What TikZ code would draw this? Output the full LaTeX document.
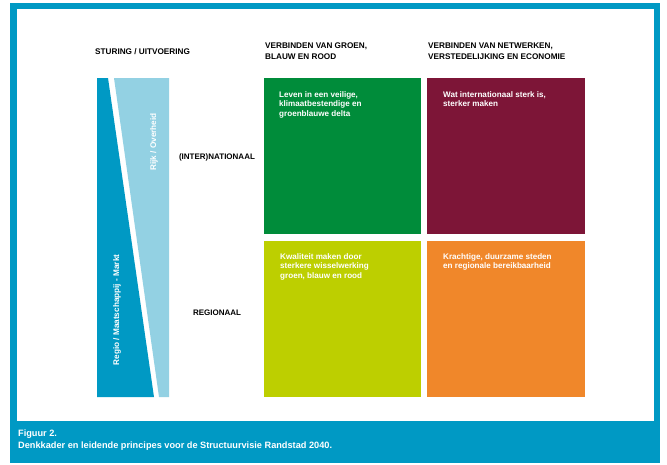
\documentclass[tikz,border=0pt]{standalone}
\usepackage{fontspec}
\setmainfont{Liberation Sans}
\definecolor{frameblue}{RGB}{0,153,196}
\definecolor{lightblue}{RGB}{147,209,227}
\definecolor{dgreen}{RGB}{0,140,58}
\definecolor{dmaroon}{RGB}{125,21,55}
\definecolor{dlime}{RGB}{189,207,0}
\definecolor{dorange}{RGB}{240,135,42}
\begin{document}
\begin{tikzpicture}[x=1pt,y=-1pt,
  header/.style={anchor=north west,inner sep=0pt,align=left,font=\bfseries\fontsize{8.2}{11}\selectfont,text=black},
  boxtext/.style={anchor=north west,inner sep=0pt,align=left,font=\bfseries\fontsize{8.1}{9.8}\selectfont,text=white},
  rowlabel/.style={inner sep=0pt,font=\bfseries\fontsize{8}{10}\selectfont,text=black},
  bartext/.style={inner sep=0pt,rotate=90,font=\bfseries\fontsize{8.2}{9}\selectfont,text=white},
  caption/.style={anchor=north west,inner sep=0pt,align=left,font=\bfseries\fontsize{9.2}{12}\selectfont,text=white}]
\useasboundingbox (0,0) rectangle (667,464);
% frame
\fill[frameblue] (10,3) rectangle (660,463);
\fill[white] (17,9) rectangle (654,421);
% headers
\node[header] (h1) at (95,48) {STURING / UITVOERING};
\node[header] (h2) at (265,43) {VERBINDEN VAN GROEN,\\BLAUW EN ROOD};
\node[header] (h3) at (428,43) {VERBINDEN VAN NETWERKEN,\\VERSTEDELIJKING EN ECONOMIE};
% left bars
\fill[frameblue] (97,78) -- (108,78) -- (154,397) -- (97,397) -- cycle;
\fill[lightblue] (114,78) -- (169,78) -- (169,397) -- (159,397) -- cycle;
\node[bartext] (rijk) at (154,142) {Rijk / Overheid};
\node[bartext] (regio) at (117,310) {Regio / Maatschappij - Markt};
% row labels
\node[rowlabel] (intl) at (217,157) {(INTER)NATIONAAL};
\node[rowlabel] (reg) at (217,313) {REGIONAAL};
% boxes
\fill[dgreen] (264,78) rectangle (421,234);
\fill[dmaroon] (427,78) rectangle (585,234);
\fill[dlime] (264,241) rectangle (421,397);
\fill[dorange] (427,241) rectangle (585,397);
\node[boxtext] (t1) at (279,91) {Leven in een veilige,\\klimaatbestendige en\\groenblauwe delta};
\node[boxtext] (t2) at (443,91) {Wat internationaal sterk is,\\sterker maken};
\node[boxtext] (t3) at (280,253) {Kwaliteit maken door\\sterkere wisselwerking\\groen, blauw en rood};
\node[boxtext] (t4) at (443,253) {Krachtige, duurzame steden\\en regionale bereikbaarheid};
% caption
\node[caption] (cap) at (18,430) {Figuur 2.\\Denkkader en leidende principes voor de Structuurvisie Randstad 2040.};
\end{tikzpicture}
\end{document}
